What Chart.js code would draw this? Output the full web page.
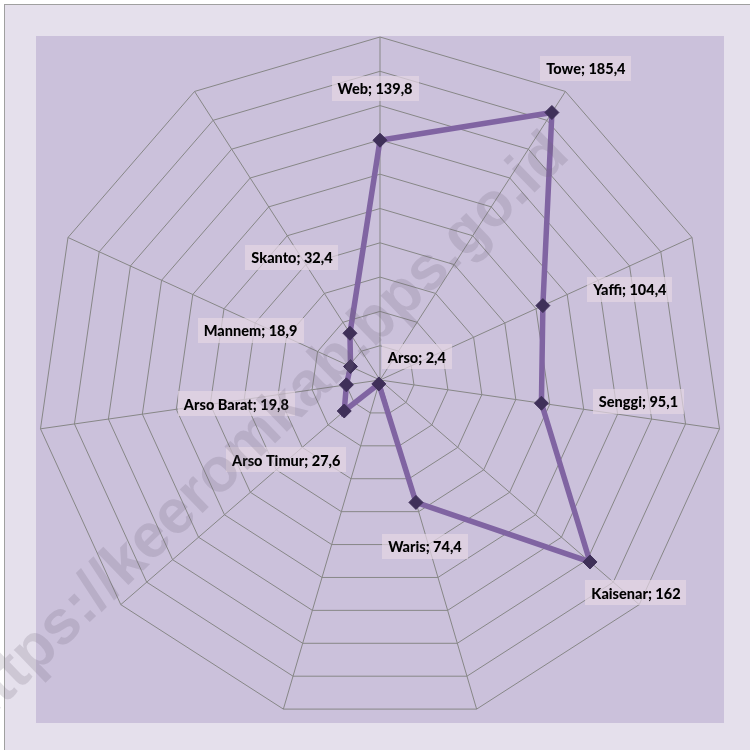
<!DOCTYPE html>
<html>
<head>
<meta charset="utf-8">
<script src="https://cdn.jsdelivr.net/npm/chart.js@4.4.1/dist/chart.umd.min.js"></script>
<style>
  html, body { margin: 0; padding: 0; background: #fff; }
  #wrap { width: 750px; height: 750px; }
</style>
</head>
<body>
<div id="wrap"><canvas id="radarChart" width="750" height="750"></canvas></div>
<script>
// Data (clockwise from the top)
const districts = ['Web', 'Towe', 'Yaffi', 'Senggi', 'Kaisenar', 'Waris', 'Arso', 'Arso Timur', 'Arso Barat', 'Mannem', 'Skanto'];
const values = [139.8, 185.4, 104.4, 95.1, 162, 74.4, 2.4, 27.6, 19.8, 18.9, 32.4];
const scaleMax = 200;
const scaleStep = 20;

// Label box offsets from each point, in px (layout only)
const labelOffsets = [[-5, -52], [34, -44], [87, -16], [97, -2], [46, 31], [9, 44], [38, -27], [-58, 49], [-110, 19], [-100, -36], [-58, -76]];

function formatValue(v) {
  return String(v).replace('.', ',');
}

// Panel background, plot area and border
const backgroundPlugin = {
  id: 'panelBackground',
  beforeDraw(chart) {
    const ctx = chart.ctx;
    ctx.save();
    ctx.fillStyle = '#ffffff';
    ctx.fillRect(0, 0, chart.width, chart.height);
    ctx.fillStyle = '#e5e0ec';
    ctx.fillRect(4, 4, chart.width, chart.height);
    ctx.strokeStyle = '#a0a0a0';
    ctx.lineWidth = 1;
    ctx.strokeRect(4.5, 4.5, chart.width + 10, chart.height + 10);
    ctx.fillStyle = '#cbc1db';
    ctx.fillRect(36, 36, 688, 687);
    ctx.restore();
  }
};

// "Name; value" labels with light boxes
const valueLabelPlugin = {
  id: 'valueLabels',
  afterDatasetsDraw(chart) {
    const ctx = chart.ctx;
    const meta = chart.getDatasetMeta(0);
    ctx.save();
    ctx.font = '900 14.5px Lato, "Open Sans", sans-serif';
    ctx.textAlign = 'center';
    ctx.textBaseline = 'middle';
    meta.data.forEach((pt, i) => {
      const text = districts[i] + '; ' + formatValue(values[i]);
      const off = labelOffsets[i];
      const cx = pt.x + off[0];
      const cy = pt.y + off[1];
      const w = ctx.measureText(text).width + 12;
      const h = 25;
      ctx.fillStyle = 'rgba(228, 214, 228, 0.7)';
      ctx.fillRect(Math.round(cx - w / 2), Math.round(cy - h / 2), Math.round(w), h);
      ctx.fillStyle = '#000000';
      ctx.fillText(text, cx, cy + 1);
    });
    ctx.restore();
  }
};

// Watermark across the chart
const watermarkPlugin = {
  id: 'watermark',
  afterDraw(chart) {
    const ctx = chart.ctx;
    ctx.save();
    ctx.translate(262, 432);
    ctx.rotate(-44 * Math.PI / 180);
    ctx.font = 'bold 62px "Liberation Sans", Arial, sans-serif';
    ctx.textAlign = 'center';
    ctx.textBaseline = 'middle';
    ctx.fillStyle = 'rgba(110, 100, 120, 0.2)';
    ctx.fillText('https://keeromkab.bps.go.id', 0, 0);
    ctx.restore();
  }
};

document.addEventListener('DOMContentLoaded', function() {
  const ctx = document.getElementById('radarChart').getContext('2d');
  new Chart(ctx, {
    type: 'radar',
    data: {
      labels: districts,
      datasets: [{
        data: values,
        borderColor: '#8064a2',
        borderWidth: 5.5,
        backgroundColor: 'transparent',
        fill: false,
        tension: 0,
        pointStyle: 'rectRot',
        pointRadius: 7,
        pointBorderWidth: 1,
        pointBackgroundColor: '#3f3059',
        pointBorderColor: '#3f3059'
      }]
    },
    options: {
      responsive: false,
      animation: false,
      layout: {
        padding: { left: 37, top: 37, right: 27, bottom: 27 }
      },
      plugins: {
        legend: { display: false },
        tooltip: { enabled: false }
      },
      scales: {
        r: {
          min: 0,
          max: scaleMax,
          startAngle: 0,
          ticks: { display: false, stepSize: scaleStep },
          pointLabels: { display: false },
          grid: { color: '#878787', lineWidth: 1 },
          angleLines: { color: '#878787', lineWidth: 1 }
        }
      }
    },
    plugins: [backgroundPlugin, valueLabelPlugin, watermarkPlugin]
  });
});
</script>
</body>
</html>
